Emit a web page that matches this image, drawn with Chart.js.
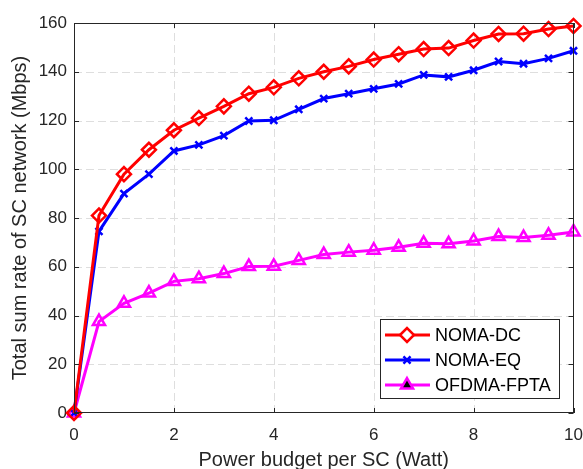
<!DOCTYPE html>
<html>
<head>
<meta charset="utf-8">
<script src="https://cdn.jsdelivr.net/npm/chart.js@4/dist/chart.umd.min.js"></script>
<style>
  html, body { margin: 0; padding: 0; background: #fff; }
  #wrap { width: 583px; height: 469px; }
</style>
</head>
<body>
<div id="wrap"><canvas id="chart" width="583" height="469"></canvas></div>
<script>
const powerBudget = [0, 0.5, 1, 1.5, 2, 2.5, 3, 3.5, 4, 4.5, 5, 5.5, 6, 6.5, 7, 7.5, 8, 8.5, 9, 9.5, 10];
const nomaDC = [0, 81, 98, 108, 116, 121, 125.8, 131, 133.6, 137.3, 140, 142.2, 145, 147.2, 149.3, 149.7, 152.8, 155.5, 155.6, 157.5, 158.8];
const nomaEQ = [0, 74.5, 90, 98, 107.5, 110, 113.8, 119.8, 120.1, 124.6, 129, 131, 133, 135, 138.7, 137.9, 140.6, 144.2, 143.3, 145.5, 148.6];
const ofdmaFPTA = [0, 37.5, 45, 49.2, 54, 55.1, 57.2, 60.1, 60.2, 62.6, 65, 66, 66.8, 68, 69.6, 69.4, 70.6, 72.4, 72, 72.9, 74.3];
const xTicks = [0, 2, 4, 6, 8, 10];
const yTicks = [0, 20, 40, 60, 80, 100, 120, 140, 160];

const FONT = '"Liberation Sans", Arial, Helvetica, sans-serif';
const TEXT = '#262626';

const series = [
  { label: 'NOMA-DC', data: nomaDC, color: '#ff0000', style: 'rectRot', radius: 7 },
  { label: 'NOMA-EQ', data: nomaEQ, color: '#0000ff', style: 'crossRot', radius: 5 },
  { label: 'OFDMA-FPTA', data: ofdmaFPTA, color: '#ff00ff', style: 'triangle', radius: 7 }
];

// dashed grid under the lines
const dashGrid = {
  id: 'dashGrid',
  beforeDatasetsDraw(chart) {
    const ctx = chart.ctx;
    const a = chart.chartArea;
    const xs = chart.scales.x, ys = chart.scales.y;
    ctx.save();
    ctx.strokeStyle = '#dedede';
    ctx.lineWidth = 1;
    ctx.setLineDash([8, 4]);
    ctx.beginPath();
    xTicks.slice(1, -1).forEach(v => {
      const px = Math.round(xs.getPixelForValue(v)) + 0.5;
      ctx.moveTo(px, a.bottom); ctx.lineTo(px, a.top);
    });
    yTicks.slice(1, -1).forEach(v => {
      const py = Math.round(ys.getPixelForValue(v)) + 0.5;
      ctx.moveTo(a.left, py); ctx.lineTo(a.right, py);
    });
    ctx.stroke();
    ctx.restore();
  }
};

// box, inward ticks and legend drawn on top
const frame = {
  id: 'frame',
  afterDraw(chart) {
    const ctx = chart.ctx;
    const a = chart.chartArea;
    const xs = chart.scales.x, ys = chart.scales.y;
    ctx.save();
    ctx.strokeStyle = TEXT;
    ctx.lineWidth = 1;
    ctx.strokeRect(Math.round(a.left) + 0.5, Math.round(a.top) + 0.5, Math.round(a.right - a.left) - 1, Math.round(a.bottom - a.top) - 1);
    ctx.beginPath();
    xTicks.forEach(v => {
      const px = Math.round(xs.getPixelForValue(v)) + 0.5;
      ctx.moveTo(px, a.bottom); ctx.lineTo(px, a.bottom - 5);
      ctx.moveTo(px, a.top); ctx.lineTo(px, a.top + 5);
    });
    yTicks.forEach(v => {
      const py = Math.round(ys.getPixelForValue(v)) + 0.5;
      ctx.moveTo(a.left, py); ctx.lineTo(a.left + 5, py);
      ctx.moveTo(a.right, py); ctx.lineTo(a.right - 5, py);
    });
    ctx.stroke();

    // legend
    const lx = 380, ly = 319, lw = 179, lh = 79;
    ctx.fillStyle = '#fff';
    ctx.fillRect(lx, ly, lw, lh);
    ctx.strokeStyle = TEXT;
    ctx.strokeRect(lx + 0.5, ly + 0.5, lw, lh);
    ctx.font = '18px ' + FONT;
    ctx.textBaseline = 'middle';
    series.forEach((s, i) => {
      const cy = ly + 16 + i * 25;
      ctx.strokeStyle = s.color;
      ctx.lineWidth = 3;
      ctx.beginPath();
      ctx.moveTo(lx + 5, cy); ctx.lineTo(lx + 50, cy);
      ctx.stroke();
      ctx.lineWidth = 2.5;
      Chart.helpers.drawPoint(ctx, { pointStyle: s.style, radius: s.radius, borderWidth: 2.5, rotation: 0 }, lx + 27, cy);
      ctx.fillStyle = '#000';
      ctx.fillText(s.label, lx + 55, cy + 1);
    });
    ctx.restore();
  }
};

new Chart(document.getElementById('chart'), {
  type: 'line',
  data: {
    datasets: series.map(s => ({
      label: s.label,
      data: s.data.map((y, i) => ({ x: powerBudget[i], y })),
      borderColor: s.color,
      backgroundColor: 'rgba(0,0,0,0)',
      pointBorderColor: s.color,
      pointBackgroundColor: 'rgba(0,0,0,0)',
      pointStyle: s.style,
      pointRadius: s.radius,
      pointBorderWidth: 2.5,
      borderWidth: 3,
      tension: 0,
      clip: false
    }))
  },
  options: {
    responsive: false,
    animation: false,
    layout: { padding: { top: 23, right: 9, left: 0, bottom: 0 } },
    plugins: { legend: { display: false }, tooltip: { enabled: false } },
    scales: {
      x: {
        type: 'linear',
        min: 0, max: 10,
        afterBuildTicks: s => { s.ticks = xTicks.map(v => ({ value: v })); },
        afterFit: s => { s.height = 56; s.paddingLeft = 0; s.paddingRight = 0; },
        grid: { display: false, drawTicks: false },
        border: { display: false },
        ticks: { color: TEXT, font: { family: FONT, size: 17 }, padding: 12 },
        title: { display: true, text: 'Power budget per SC (Watt)', color: TEXT, font: { family: FONT, size: 20 }, padding: { top: 0, bottom: -3 } }
      },
      y: {
        min: 0, max: 160,
        afterBuildTicks: s => { s.ticks = yTicks.map(v => ({ value: v })); },
        afterFit: s => { s.width = 74; s.paddingTop = 0; s.paddingBottom = 0; },
        grid: { display: false, drawTicks: false },
        border: { display: false },
        ticks: { color: TEXT, font: { family: FONT, size: 17 }, padding: 7 },
        title: { display: true, text: 'Total sum rate of SC network (Mbps)', color: TEXT, font: { family: FONT, size: 20 }, padding: { top: 8, bottom: 0 } }
      }
    }
  },
  plugins: [dashGrid, frame]
});
</script>
</body>
</html>
